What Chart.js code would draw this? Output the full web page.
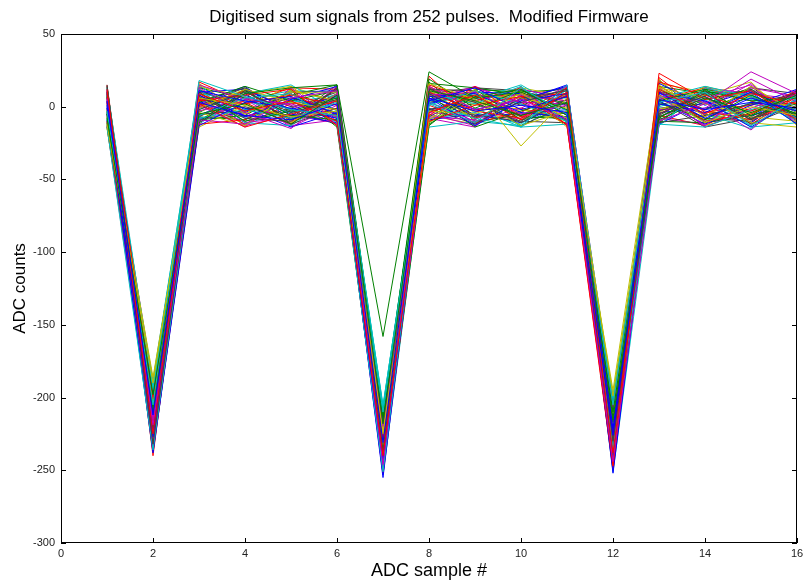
<!DOCTYPE html>
<html>
<head>
<meta charset="utf-8">
<script src="https://cdn.jsdelivr.net/npm/chart.js@4.4.0/dist/chart.umd.min.js"></script>
<style>
  body { margin: 0; background: #fff; }
  canvas { display: block; }
</style>
</head>
<body>
<canvas id="adc" width="803" height="581"></canvas>
<script>
// ADC sample index along x, ticks as in the figure
const sampleNumbers = [1, 2, 3, 4, 5, 6, 7, 8, 9, 10, 11, 12, 13, 14, 15, 16];
const xTicks = [0, 2, 4, 6, 8, 10, 12, 14, 16];
const yTicks = [-300, -250, -200, -150, -100, -50, 0, 50];

// pulses (a representative subset of the 252)
const pulsesA = [
  [4, -212, 3, -6, -9, 2, -231, 6, -3, 1, -4, -226, 5, -2, 3, -1],
  [-8, -198, -5, 2, -12, 8, -218, 11, 4, -6, 3, -214, -7, 6, -4, 8],
  [12, -225, 9, -3, 4, -10, -240, -4, 8, -9, 10, -238, 12, -5, 9, 2],
  [-3, -205, 18, 7, -2, -6, -210, 2, -11, 13, -5, -205, 3, 10, -13, 5],
  [6, -219, -9, -12, 6, 11, -246, 14, -2, 5, -9, -244, -10, 2, 24, 9],
  [-12, -190, 6, 1, -7, -3, -225, -9, 12, -27, 6, -199, 8, -11, 0, -6],
  [15, -232, -2, 10, -4, 5, -236, 9, -7, 3, 12, -230, -3, 7, -9, 11]
];
const pulsesB = [
  [1, -227, 11, 4, -1, -8, -244, 4, 13, -2, 7, -221, 10, -8, 6, -3],
  [-5, -210, -11, 9, 13, 15, -158, 24, 6, 10, -2, -210, 4, 12, -6, 2],
  [9, -201, 2, -14, -5, 4, -229, -10, 1, 7, -12, -247, 23, 5, 11, -9],
  [-14, -236, -6, 6, 9, -11, -251, 3, -8, -14, 15, -235, -12, -14, -2, 7],
  [3, -215, 13, -4, -15, 9, -220, 8, 10, -5, 1, -208, 7, 3, -16, 12],
  [-7, -186, -1, 12, 3, -2, -233, -3, -5, 9, -8, -195, 15, -7, 14, -4],
  [10, -222, 7, -8, -10, 13, -241, 12, 3, -11, 5, -242, -5, 9, -8, 0]
];
const pulsesC = [
  [-1, -238, -13, 3, 7, -5, -255, 6, -13, 4, 9, -252, 2, -4, 10, -12],
  [7, -207, 10, -10, -3, 6, -214, -12, 7, 12, -6, -217, -8, 11, 4, 6],
  [-10, -218, 4, 8, 12, -13, -238, 10, -3, -8, 13, -228, 11, -10, -5, 10],
  [13, -195, -8, -2, -8, 3, -205, 1, 11, 2, -10, -200, 6, 14, 7, -8],
  [-6, -230, 15, 5, 2, -7, -248, -7, -9, 8, 4, -239, -2, -1, 19, 3],
  [2, -203, -4, -13, 10, 10, -222, 16, 5, -13, -3, -213, 13, 6, -11, -14],
  [-13, -224, 1, 13, -12, -1, -235, -1, -12, 6, 11, -233, -11, -6, 2, 9]
];
const pulsesD = [
  [8, -213, 8, -7, 5, 14, -243, 7, 9, -4, -7, -224, 9, 4, -14, 5],
  [-4, -199, -10, 11, -6, -9, -212, 19, -1, 11, 2, -206, 3, -9, 8, -5],
  [11, -234, 5, 2, 8, 1, -250, -6, 14, -7, 8, -245, 17, 8, -3, 11],
  [-9, -188, 12, -11, -13, 7, -207, 9, 2, 14, -11, -198, -13, 13, 5, -2],
  [5, -228, -3, 6, 1, -12, -232, 3, -10, -1, 14, -236, 7, -13, 13, 7],
  [-2, -209, 16, -5, 11, 4, -226, -11, 8, 6, -1, -219, 12, 2, -7, -10],
  [14, -216, -7, 9, -9, 12, -246, 13, -6, -10, 10, -241, -6, 11, -12, 1]
];
const pulsesE = [
  [0, -221, 6, -1, -14, -4, -239, 2, 10, 9, -9, -227, 4, -12, 1, 12],
  [-11, -204, 3, 14, 4, 11, -217, 8, -14, -3, 7, -211, -9, 5, 12, -7],
  [6, -237, -12, -9, 9, -6, -252, 15, 4, 13, -13, -249, 14, -3, -9, 4],
  [-7, -193, 9, 4, -4, 2, -209, -8, -4, -12, 12, -203, 0, 9, 9, -12],
  [12, -226, 1, -14, 13, -10, -234, 5, 13, 3, 2, -232, 10, -14, -1, 10],
  [-15, -211, 14, 7, -11, 9, -223, 11, -9, 10, -8, -216, -4, 14, 6, -1],
  [3, -229, -5, -3, 6, -2, -244, -2, 6, -6, 5, -243, 8, -8, -10, 8]
];
const pulsesF = [
  [9, -200, 10, 12, -2, 7, -215, 10, -2, 5, 14, -209, 16, 1, 11, -4],
  [-3, -233, -9, -6, 11, -14, -248, -13, 12, -9, -4, -238, -10, -11, -6, 11],
  [4, -214, 17, 3, -12, 13, -228, 21, -8, 7, 9, -222, 5, 13, 4, -8],
  [-12, -195, -2, 10, 5, -4, -211, 4, 9, -14, -12, -204, 11, -5, -15, 6],
  [10, -223, 5, -11, -7, 5, -241, -5, -13, 12, 6, -235, -7, 6, 15, -11],
  [-6, -208, -14, 1, 14, -8, -219, 8, 3, -2, -7, -212, 19, -13, -4, 3],
  [7, -235, 8, -10, -1, 10, -249, 12, 11, 1, 11, -246, 1, 10, 8, -6]
];
const pulsesG = [
  [-9, -217, -6, 8, -5, -11, -237, -9, -5, -11, 3, -229, -12, 4, -7, 10],
  [13, -202, 12, -3, 8, 15, -213, 16, 13, 8, -10, -207, 12, -2, 10, -3],
  [-2, -228, 0, 11, -10, -1, -245, 1, -11, -4, 13, -240, -5, 11, -12, 7],
  [5, -191, 15, -8, 3, 8, -206, 7, 5, 15, -3, -201, 7, -10, 3, -9],
  [-14, -231, -11, 5, -13, -9, -253, -4, -7, -8, 8, -250, 13, -6, -3, 9],
  [8, -206, 7, -13, 12, 3, -221, 13, 1, 11, -14, -218, -2, 8, 17, -13],
  [-5, -220, 4, 13, -3, -12, -230, 3, 8, -13, 1, -225, 4, -14, -8, 4]
];
const pulsesH = [
  [11, -226, -8, -4, 10, 11, -242, 11, -12, 4, 15, -234, 10, 7, -11, 11],
  [-1, -197, 13, 6, -8, -5, -208, -7, 10, -7, -8, -203, -11, 12, 7, -5],
  [14, -240, 3, -12, 2, 6, -247, 9, 6, 9, 4, -244, 20, -4, 1, 8],
  [-8, -214, -12, 9, 15, -3, -227, -14, -10, -13, 10, -214, 6, 3, -13, 12],
  [2, -189, 8, -6, -11, 14, -216, 5, 14, 2, -5, -206, -8, -12, 12, -2],
  [-11, -224, -3, 4, 7, -7, -236, 12, -4, 13, 7, -231, 16, 10, -5, 6],
  [6, -209, 11, -1, -6, 9, -223, -3, 2, -10, -11, -219, 2, -7, 14, -10]
];
const pulsesI = [
  [-4, -232, 2, 14, -9, 4, -251, 8, -6, -5, -2, -248, -4, -1, 6, -7],
  [9, -211, -7, -9, 4, -10, -218, -11, 12, 10, 12, -215, 14, 9, -9, 10],
  [-13, -203, 10, 2, 13, 12, -233, 14, -2, -1, -9, -227, -6, -13, 3, 2],
  [1, -219, 4, -12, -2, -6, -214, 3, 7, 6, 6, -210, 9, 5, -14, -11],
  [12, -236, -10, 7, -14, 1, -244, -8, -14, 14, -13, -242, -10, 13, 9, 5],
  [-7, -194, 6, -5, 9, -13, -229, 10, 9, -9, 3, -223, 11, -9, -2, -4],
  [4, -222, -1, 11, 0, 7, -239, 6, -8, 5, 14, -236, -1, 2, 13, 9]
];
const pulsesJ = [
  [-10, -205, 14, -2, 6, -8, -226, -2, 4, 12, -6, -217, 13, -11, -6, 3],
  [7, -229, -4, 12, -12, 13, -240, 17, -10, -6, 9, -232, -7, 8, 11, -8],
  [15, -214, 9, -7, 3, -4, -219, 4, 11, 3, -12, -212, 5, -5, -11, 10],
  [-5, -238, -9, 5, 11, 10, -253, -10, -1, -14, 5, -251, -13, 12, 4, -3],
  [3, -199, 12, -13, -6, -11, -211, 13, 6, 8, 13, -204, 8, -2, 16, -12],
  [-14, -217, 1, 9, 14, 3, -231, -6, -12, -2, -10, -229, -3, 14, -8, 7],
  [10, -226, -6, 0, -8, 15, -247, 9, 13, 11, 1, -239, 18, -6, 2, -5]
];

// old MATLAB line colour order: b, g, r, c, m, y, k
const lineColors = ['#0000ff', '#008000', '#ff0000', '#00bfbf', '#bf00bf', '#bfbf00', '#404040'];

const allPulses = [].concat(pulsesA, pulsesB, pulsesC, pulsesD, pulsesE,
                            pulsesF, pulsesG, pulsesH, pulsesI, pulsesJ);

const datasets = allPulses.map((vals, i) => ({
  data: vals.map((v, k) => ({ x: sampleNumbers[k], y: v })),
  borderColor: lineColors[i % lineColors.length],
  borderWidth: 1,
  pointRadius: 0,
  tension: 0,
  fill: false
}));

const FONT = '"Liberation Sans", Arial, Helvetica, sans-serif';

// box, inward ticks and the title / axis labels
const matlabFrame = {
  id: 'matlabFrame',
  afterDraw(chart) {
    const { ctx, chartArea: a, scales: { x, y } } = chart;
    ctx.save();
    ctx.strokeStyle = '#000';
    ctx.lineWidth = 1;
    ctx.strokeRect(a.left + 0.5, a.top + 0.5, a.right - a.left - 1, a.bottom - a.top - 1);

    ctx.beginPath();
    xTicks.forEach(t => {
      const px = Math.round(x.getPixelForValue(t)) + 0.5;
      ctx.moveTo(px, a.bottom); ctx.lineTo(px, a.bottom - 5);
      ctx.moveTo(px, a.top); ctx.lineTo(px, a.top + 5);
    });
    yTicks.forEach(t => {
      const py = Math.round(y.getPixelForValue(t)) + 0.5;
      ctx.moveTo(a.left, py); ctx.lineTo(a.left + 5, py);
      ctx.moveTo(a.right, py); ctx.lineTo(a.right - 5, py);
    });
    ctx.stroke();

    ctx.fillStyle = '#000';
    ctx.textAlign = 'center';
    ctx.textBaseline = 'middle';
    const cx = (a.left + a.right) / 2;
    ctx.font = '17px ' + FONT;
    ctx.fillText('Digitised sum signals from 252 pulses.  Modified Firmware', cx, 17);
    ctx.font = '18px ' + FONT;
    ctx.fillText('ADC sample #', cx, 571);
    ctx.font = '17px ' + FONT;
    ctx.translate(20, (a.top + a.bottom) / 2);
    ctx.rotate(-Math.PI / 2);
    ctx.fillText('ADC counts', 0, 0);
    ctx.restore();
  }
};

new Chart(document.getElementById('adc'), {
  type: 'line',
  data: { datasets },
  plugins: [matlabFrame],
  options: {
    responsive: false,
    animation: false,
    events: [],
    layout: { padding: { left: 0, right: 6, top: 34, bottom: 0 } },
    plugins: { legend: { display: false }, tooltip: { enabled: false }, title: { display: false } },
    scales: {
      x: {
        type: 'linear',
        min: 0,
        max: 16,
        afterFit: s => { s.height = 38; s.paddingLeft = 0; s.paddingRight = 0; },
        afterBuildTicks: s => { s.ticks = xTicks.map(v => ({ value: v })); },
        grid: { display: false, drawTicks: false },
        border: { display: false },
        ticks: { padding: 4, color: '#222', font: { family: FONT, size: 11 }, maxRotation: 0 }
      },
      y: {
        type: 'linear',
        min: -300,
        max: 50,
        afterFit: s => { s.width = 61; s.paddingTop = 0; s.paddingBottom = 0; },
        afterBuildTicks: s => { s.ticks = yTicks.map(v => ({ value: v })); },
        grid: { display: false, drawTicks: false },
        border: { display: false },
        ticks: { padding: 6, color: '#222', font: { family: FONT, size: 11 } }
      }
    }
  }
});
</script>
</body>
</html>
